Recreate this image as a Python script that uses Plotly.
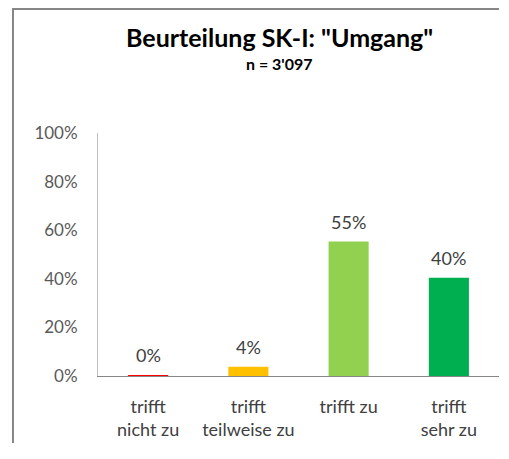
import plotly.graph_objects as go

categories = ["trifft<br>nicht zu", "trifft<br>teilweise zu", "trifft zu", "trifft<br>sehr zu"]
values = [0.3, 3.8, 55.3, 40.4]
colors = ["#FF0000", "#FFC000", "#92D050", "#00B050"]
tick_vals = [0, 20, 40, 60, 80, 100]
tick_text = ["0%", "20%", "40%", "60%", "80%", "100%"]
title_text = "Beurteilung SK-I: \"Umgang\""
subtitle_text = "n = 3'097"

FONT = "Lato"

fig = go.Figure()
fig.add_trace(go.Bar(
    x=categories, y=values, marker=dict(color=colors, line=dict(width=0)),
    width=0.4, hoverinfo="skip",
))

for c, v in zip(categories, values):
    fig.add_annotation(
        x=c, y=v, xref="x", yref="y", text=f"{v:.0f}%", showarrow=False,
        yanchor="bottom", yshift=7, font=dict(family=FONT, size=18, color="#404040"),
    )

fig.add_annotation(x=0.453, y=1.395, xref="paper", yref="paper", text=f"<b>{title_text}</b>",
                   showarrow=False, font=dict(family=FONT, size=25, color="#000000"),
                   xanchor="center", yanchor="middle")
fig.add_annotation(x=0.453, y=1.284, xref="paper", yref="paper", text=f"<b>{subtitle_text}</b>",
                   showarrow=False, font=dict(family=FONT, size=16, color="#000000"),
                   xanchor="center", yanchor="middle")

# outer frame (left and top edges), drawn as one open path
fig.add_shape(type="path", xref="paper", yref="paper",
              path="M -0.212,-0.4 L -0.212,1.5103 L 1.05,1.5103",
              line=dict(color="#868686", width=2))

fig.update_layout(
    width=491, height=435,
    margin=dict(l=90, r=0, t=125, b=67, pad=0),
    paper_bgcolor="white", plot_bgcolor="white",
    showlegend=False, bargap=0.6,
    xaxis=dict(showgrid=False, showline=True, linecolor="#868686", linewidth=1,
               ticks="", tickfont=dict(family=FONT, size=18, color="#404040"),
               ticklabelstandoff=14, fixedrange=True),
    yaxis=dict(range=[0, 100], tickvals=tick_vals, ticktext=tick_text,
               showgrid=False, zeroline=False, showline=True, linecolor="#BFBFBF", linewidth=1,
               ticks="", tickfont=dict(family=FONT, size=17, color="#595959"),
               ticklabelstandoff=16, fixedrange=True),
)

fig.write_html("out.html", config={"displayModeBar": False})
